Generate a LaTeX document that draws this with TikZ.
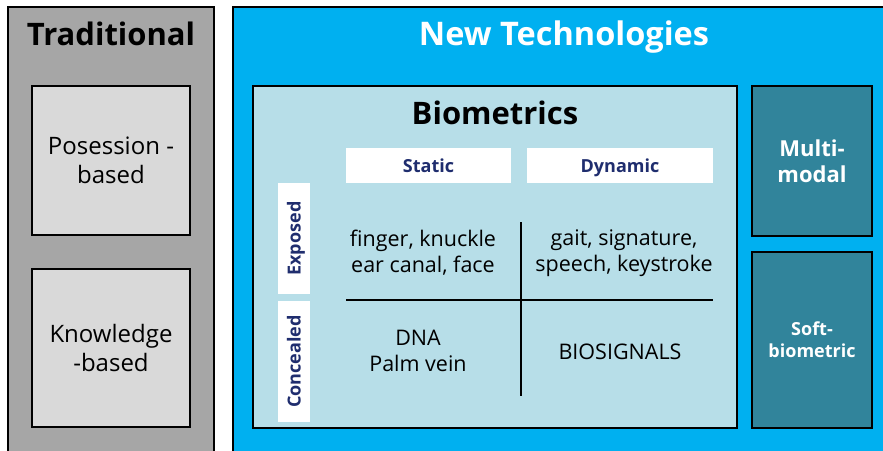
\documentclass[tikz,border=0pt]{standalone}
\usepackage{fontspec}
\setmainfont{Open Sans}
\usetikzlibrary{positioning, backgrounds}
\definecolor{tradgray}{HTML}{A6A6A6}
\definecolor{cardgray}{HTML}{D9D9D9}
\definecolor{newblue}{HTML}{00B0F0}
\definecolor{biolight}{HTML}{B7DEE8}
\definecolor{modteal}{HTML}{31849B}
\definecolor{hdrnavy}{HTML}{1F2D6E}

\begin{document}
\begin{tikzpicture}[
    x=1pt, y=-1pt,
    box/.style={
      rectangle, draw=black, line width=1.6pt, inner sep=2pt,
      text centered, align=center
    },
    outerbox/.style={box, line width=2pt},
    tradbox/.style={outerbox, fill=tradgray},
    newbox/.style={outerbox, fill=newblue},
    cardbox/.style={box, fill=cardgray, font=\fontsize{24}{29}\selectfont},
    biobox/.style={box, fill=biolight},
    modbox/.style={box, fill=modteal, text=white},
    title/.style={font=\fontsize{31}{34}\selectfont\bfseries, inner sep=0pt, anchor=base},
    hdrbox/.style={rectangle, fill=white, inner sep=0pt, text=hdrnavy,
                   text height=13pt, text depth=0pt,
                   font=\fontsize{18}{20}\selectfont\bfseries},
    celltext/.style={align=center, inner sep=0pt,
                     font=\fontsize{21.5}{26}\selectfont},
    grid/.style={draw=black, line width=1.6pt}
  ]
    \useasboundingbox (0,0) rectangle (883,450);

    % Outer panels
    \node[tradbox, minimum width=206pt, minimum height=445pt] (trad) at (111,229.5) {};
    \node[newbox,  minimum width=656pt, minimum height=449pt] (new)  at (561,231.5) {};
    \node[title] (tradtitle) at (111,45) {Traditional};
    \node[title, text=white, font=\fontsize{32.5}{36}\selectfont\bfseries] (newtitle) at (564,45) {New Technologies};

    % Traditional column
    \node[cardbox, minimum width=158pt, minimum height=149pt] (poss) at (111,160.5) {Posession -\\based};
    \node[cardbox, minimum width=158pt, minimum height=158pt] (know) at (111,348) {Knowledge\\-based};

    % Biometrics panel
    \node[biobox, minimum width=484pt, minimum height=342pt] (bio) at (495,257) {};
    \node[title] (biotitle) at (495,124) {Biometrics};

    % Column and row headers
    \node[hdrbox, minimum width=165pt, minimum height=35pt] (static)  at (428.5,165.5) {Static};
    \node[hdrbox, minimum width=186pt, minimum height=35pt] (dynamic) at (620,165.5) {Dynamic};
    \node[hdrbox, rotate=90, minimum width=111pt, minimum height=32pt] (exposed)   at (294,238.5) {Exposed};
    \node[hdrbox, rotate=90, minimum width=121pt, minimum height=32pt] (concealed) at (294,361.5) {Concealed};

    % Cells
    \node[celltext] (expstat) at (423,253) {finger, knuckle\\ear canal, face};
    \node[celltext] (expdyn)  at (624,253) {gait, signature,\\speech, keystroke};
    \node[celltext] (constat) at (418,351) {DNA\\Palm vein};
    \node[celltext] (condyn)  at (620,352) {BIOSIGNALS};

    % Cross dividing the cells
    \coordinate (hleft)  at (346,300);
    \coordinate (hright) at (713,300);
    \coordinate (vtop)   at (521,222);
    \coordinate (vbot)   at (521,396);
    \draw[grid] (hleft) -- (hright);
    \draw[grid] (vtop)  -- (vbot);

    % Side boxes
    \node[modbox, minimum width=120pt, minimum height=150pt,
          font=\fontsize{22}{26}\selectfont\bfseries] (multi) at (812,161) {Multi-\\modal};
    \node[modbox, minimum width=120pt, minimum height=176pt,
          font=\fontsize{18}{22}\selectfont\bfseries] (soft) at (812,340) {Soft-\\biometric};

  \end{tikzpicture}
\end{document}
